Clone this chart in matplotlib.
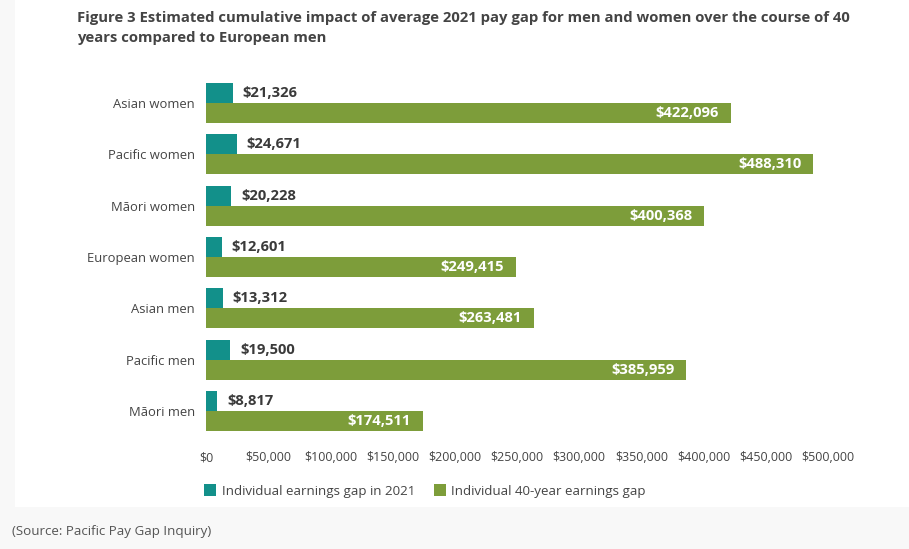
import matplotlib.pyplot as plt
from matplotlib.patches import Rectangle

categories = ["Asian women", "Pacific women", "Māori women", "European women",
              "Asian men", "Pacific men", "Māori men"]
gap_2021 = [21326, 24671, 20228, 12601, 13312, 19500, 8817]
gap_40yr = [422096, 488310, 400368, 249415, 263481, 385959, 174511]
xticks = [0, 50000, 100000, 150000, 200000, 250000, 300000, 350000, 400000, 450000, 500000]

teal = "#12908a"
green = "#7d9d3a"
W, H = 909, 549

plt.rcParams['font.family'] = ['Open Sans', 'DejaVu Sans']

fig = plt.figure(figsize=(W / 100, H / 100), dpi=100)
fig.patch.set_facecolor("#f8f8f8")
# white card behind the chart
fig.patches.append(Rectangle((15 / W, (H - 507) / H), 1, 1, transform=fig.transFigure,
                             facecolor="white", edgecolor="none", zorder=-5))

# axes placed in pixels: x 206..828, y 70..440
ax = fig.add_axes([206 / W, (H - 440) / H, (828 - 206) / W, 370 / H])
ax.set_facecolor("none")
ax.set_zorder(2)

pos = list(range(len(categories)))
bh = 0.39
ax.barh([p - 0.195 for p in pos], gap_2021, height=bh, color=teal, label="Individual earnings gap in 2021")
ax.barh([p + 0.195 for p in pos], gap_40yr, height=bh, color=green, label="Individual 40-year earnings gap")

for p, v in zip(pos, gap_2021):
    ax.annotate(f"${v:,}", (v, p - 0.195), xytext=(10, 0), textcoords="offset pixels",
                va="center", ha="left", fontsize=10.6, fontweight="bold", color="#3a3a3a")
for p, v in zip(pos, gap_40yr):
    ax.annotate(f"${v:,}", (v, p + 0.195), xytext=(-12, 0), textcoords="offset pixels",
                va="center", ha="right", fontsize=10.6, fontweight="bold", color="white")

ax.set_xlim(0, 500000)
ax.set_ylim(6 + 29 / 51.3, -33 / 51.3)
ax.set_yticks(pos)
ax.set_yticklabels(categories, fontsize=9.4, color="#444444")
ax.set_xticks(xticks)
ax.set_xticklabels([f"${t:,}" for t in xticks], fontsize=9, color="#444444")
ax.tick_params(axis="both", length=0)
ax.tick_params(axis="y", pad=8)
ax.tick_params(axis="x", pad=8)
for s in ax.spines.values():
    s.set_visible(False)

leg = ax.legend(loc="upper left", bbox_to_anchor=(-7 / 622, -0.105), ncol=2, frameon=False,
                fontsize=9.6, handlelength=0.9, handleheight=1.0, handletextpad=0.4,
                columnspacing=1.4, borderaxespad=0)
for t in leg.get_texts():
    t.set_color("#444444")

fig.text(77 / W, 1 - 18 / H, "Figure 3 Estimated cumulative impact of average 2021 pay gap for men and women over the course of 40",
         fontsize=10.7, fontweight="bold", color="#444444", va="center", ha="left")
fig.text(77 / W, 1 - 38 / H, "years compared to European men",
         fontsize=10.7, fontweight="bold", color="#444444", va="center", ha="left")
fig.text(12 / W, 1 - 531 / H, "(Source: Pacific Pay Gap Inquiry)",
         fontsize=9.6, color="#555555", va="center", ha="left")

fig.savefig("out.png", dpi=100, facecolor=fig.get_facecolor())
